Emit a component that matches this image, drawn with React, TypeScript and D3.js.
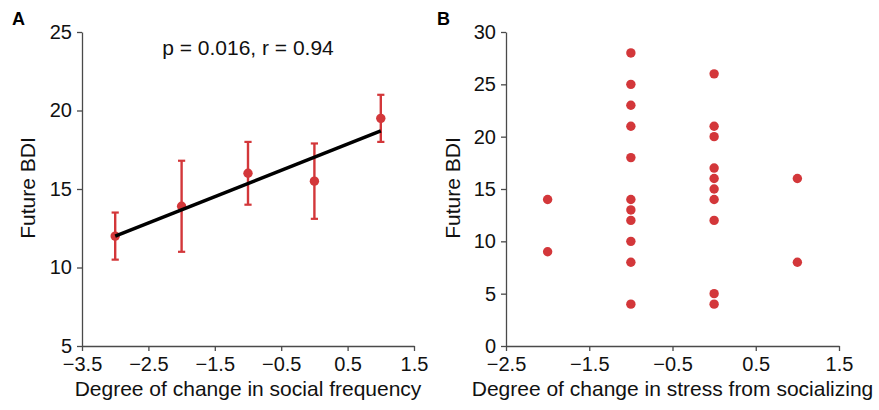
import React, { useEffect, useRef } from 'react';
import * as d3 from 'd3';

// Panel A: grouped means with error bars
const freqX = [-3, -2, -1, 0, 1];
const freqMean = [12, 13.9, 16, 15.5, 19.5];
const freqLow = [10.5, 11, 14, 13.1, 18];
const freqHigh = [13.5, 16.8, 18, 17.9, 21];
const fitLine = [[-3, 12.0], [1, 18.7]];
const ticksAX = [-3.5, -2.5, -1.5, -0.5, 0.5, 1.5];
const ticksAY = [5, 10, 15, 20, 25];

// Panel B: individual subjects
const stressX = [-2, -2, -1, -1, -1, -1, -1, -1, -1, -1, -1, -1, -1, 0, 0, 0, 0, 0, 0, 0, 0, 0, 0, 1, 1];
const stressBDI = [14, 9, 28, 25, 23, 21, 18, 14, 13, 12, 10, 8, 4, 26, 21, 20, 17, 16, 15, 14, 12, 5, 4, 16, 8];
const ticksBX = [-2.5, -1.5, -0.5, 0.5, 1.5];
const ticksBY = [0, 5, 10, 15, 20, 25, 30];

const RED = '#d3373a';
const AXIS = '#4a4a4a';
const FONT = 'Liberation Sans, Arial, sans-serif';

const App = () => {
  const svgRef = useRef<SVGSVGElement>(null);

  useEffect(() => {
    const svg = d3.select(svgRef.current);
    svg.selectAll('*').remove();

    const fmt = (d: number) => String(d).replace('-', '\u2212');

    const drawAxes = (g: any, x: any, y: any, tx: number[], ty: number[], xl: string) => {
      const ax = g.append('g')
        .attr('transform', `translate(0,${y.range()[0]})`)
        .call(d3.axisBottom(x).tickValues(tx).tickSize(5).tickSizeOuter(0).tickFormat(fmt));
      const ay = g.append('g')
        .attr('transform', `translate(${x.range()[0]},0)`)
        .call(d3.axisLeft(y).tickValues(ty).tickSize(5).tickSizeOuter(0).tickFormat(fmt));
      [ax, ay].forEach(a => {
        a.selectAll('path, line').attr('stroke', AXIS).attr('stroke-width', 1.3);
        a.selectAll('text').attr('fill', '#111').style('font-size', '20px').style('font-family', FONT);
      });
      ax.selectAll('text').attr('y', 11).attr('dy', '0.71em');
      ay.selectAll('text').attr('x', -10);

      g.append('text')
        .attr('x', (x.range()[0] + x.range()[1]) / 2)
        .attr('y', 396)
        .attr('text-anchor', 'middle')
        .style('font-size', '21px')
        .style('font-family', FONT)
        .attr('fill', '#111')
        .text(xl);
    };

    // ---------- Panel A ----------
    const gA = svg.append('g');
    const xA = d3.scaleLinear().domain([-3.5, 1.5]).range([82, 414]);
    const yA = d3.scaleLinear().domain([5, 25]).range([346, 32]);
    drawAxes(gA, xA, yA, ticksAX, ticksAY, 'Degree of change in social frequency');

    gA.append('text')
      .attr('transform', `translate(35,188) rotate(-90)`)
      .attr('text-anchor', 'middle')
      .style('font-size', '21px').style('font-family', FONT).attr('fill', '#111')
      .text('Future BDI');

    // error bars
    freqX.forEach((v, i) => {
      const cx = xA(v);
      gA.append('line').attr('x1', cx).attr('x2', cx)
        .attr('y1', yA(freqLow[i])).attr('y2', yA(freqHigh[i]))
        .attr('stroke', RED).attr('stroke-width', 2.4);
      [freqLow[i], freqHigh[i]].forEach(e => {
        gA.append('line').attr('x1', cx - 3.6).attr('x2', cx + 3.6)
          .attr('y1', yA(e)).attr('y2', yA(e))
          .attr('stroke', RED).attr('stroke-width', 2.2);
      });
    });

    gA.selectAll('circle.m')
      .data(freqX)
      .enter()
      .append('circle')
      .attr('cx', d => xA(d))
      .attr('cy', (d, i) => yA(freqMean[i]))
      .attr('r', 4.7)
      .attr('fill', RED);

    gA.append('path')
      .attr('d', d3.line()(fitLine.map(p => [xA(p[0]), yA(p[1])] as [number, number])))
      .attr('stroke', '#000').attr('stroke-width', 3.5).attr('fill', 'none');

    gA.append('text')
      .attr('x', 248).attr('y', 55)
      .attr('text-anchor', 'middle')
      .style('font-size', '21px').style('font-family', FONT).attr('fill', '#111')
      .text('p = 0.016, r = 0.94');

    svg.append('text').attr('x', 12).attr('y', 25)
      .style('font-size', '18px').style('font-weight', 'bold').style('font-family', FONT)
      .text('A');

    // ---------- Panel B ----------
    const gB = svg.append('g');
    const xB = d3.scaleLinear().domain([-2.5, 1.5]).range([506, 839]);
    const yB = d3.scaleLinear().domain([0, 30]).range([346, 32]);
    drawAxes(gB, xB, yB, ticksBX, ticksBY, 'Degree of change in stress from socializing');

    gB.append('text')
      .attr('transform', `translate(460,188) rotate(-90)`)
      .attr('text-anchor', 'middle')
      .style('font-size', '21px').style('font-family', FONT).attr('fill', '#111')
      .text('Future BDI');

    gB.selectAll('circle')
      .data(stressX)
      .enter()
      .append('circle')
      .attr('cx', d => xB(d))
      .attr('cy', (d, i) => yB(stressBDI[i]))
      .attr('r', 4.7)
      .attr('fill', RED);

    svg.append('text').attr('x', 437).attr('y', 25)
      .style('font-size', '18px').style('font-weight', 'bold').style('font-family', FONT)
      .text('B');
  }, []);

  return (
    <svg ref={svgRef} width={879} height={410} style={{ position: 'absolute', left: 0, top: 0, background: '#fff' }} />
  );
};

export default App;
